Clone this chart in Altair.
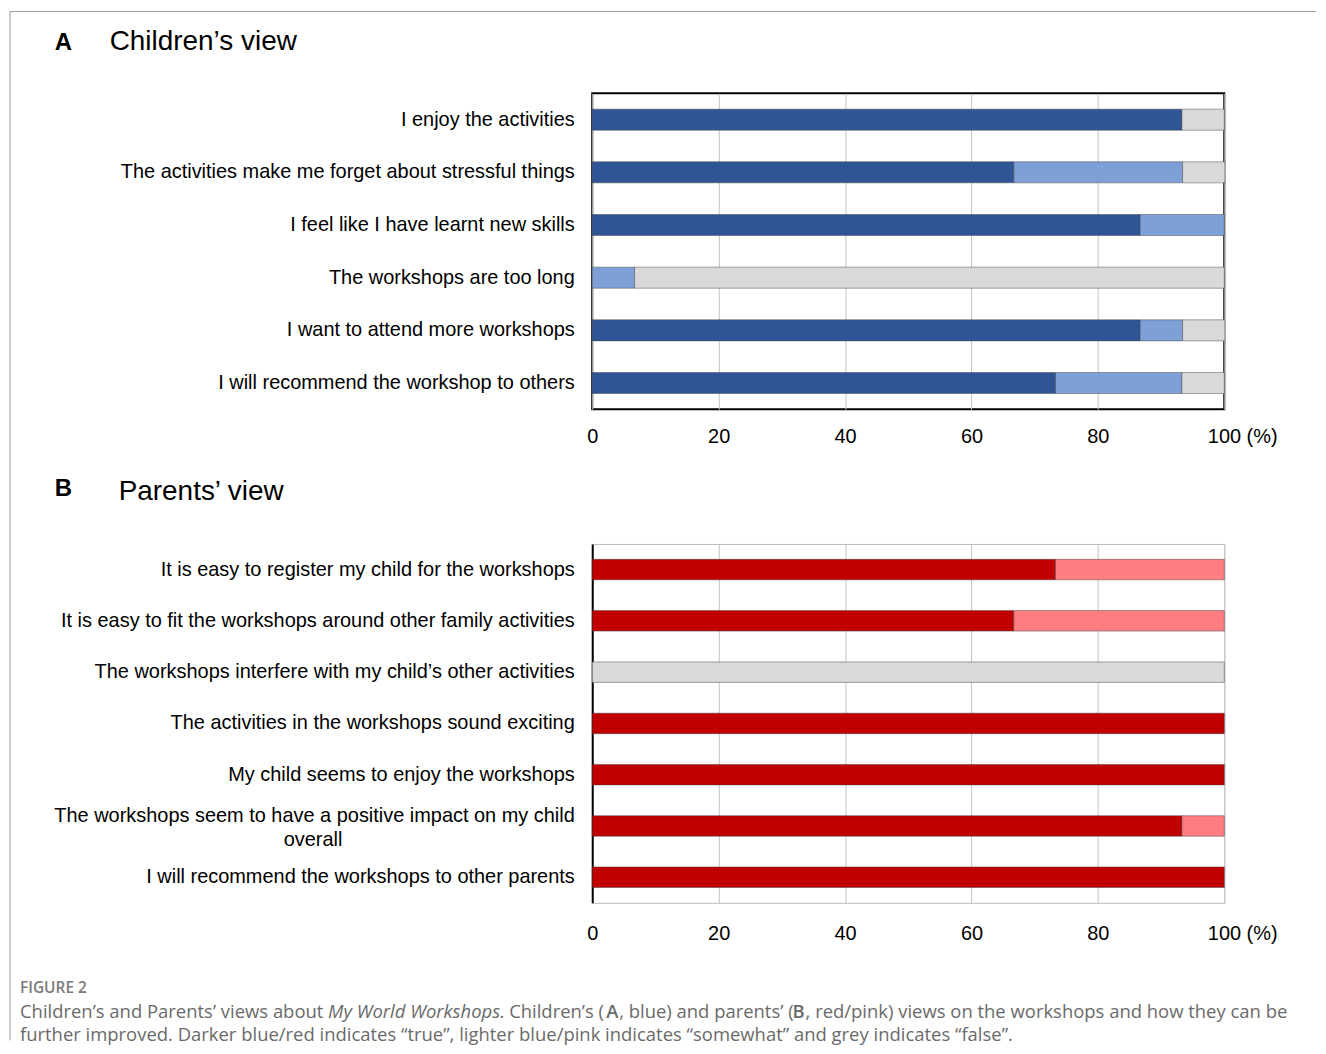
import altair as alt
import pandas as pd

# ---------------- data ----------------
children_items = [
    "I enjoy the activities",
    "The activities make me forget about stressful things",
    "I feel like I have learnt new skills",
    "The workshops are too long",
    "I want to attend more workshops",
    "I will recommend the workshop to others",
]
children_true = [93.3, 66.7, 86.7, 0.0, 86.7, 73.3]
children_somewhat = [0.0, 26.7, 13.3, 6.7, 6.7, 20.0]
children_false = [6.7, 6.7, 0.0, 93.3, 6.7, 6.7]

parents_items = [
    "It is easy to register my child for the workshops",
    "It is easy to fit the workshops around other family activities",
    "The workshops interfere with my child\u2019s other activities",
    "The activities in the workshops sound exciting",
    "My child seems to enjoy the workshops",
    "The workshops seem to have a positive impact on my child overall",
    "I will recommend the workshops to other parents",
]
parents_true = [73.3, 66.7, 0.0, 100.0, 100.0, 93.3, 100.0]
parents_somewhat = [26.7, 33.3, 0.0, 0.0, 0.0, 6.7, 0.0]
parents_false = [0.0, 0.0, 100.0, 0.0, 0.0, 0.0, 0.0]

answers = ["true", "somewhat", "false"]
x_ticks = [0, 20, 40, 60, 80, 100]

blue_palette = ["#2F5597", "#7F9FD7", "#D9D9D9"]
red_palette = ["#C00000", "#FF7C80", "#D9D9D9"]

# long label that wraps onto a second line in the figure
wrap_item = "The workshops seem to have a positive impact on my child overall"
wrap_first = "The workshops seem to have a positive impact on my child"
wrap_second = "overall"

caption_head = "FIGURE 2"
# caption line 1 pieces: (text, style, weight, x offset from panel B origin)
caption_pieces = [
    ("Children\u2019s and Parents\u2019 views about ", "normal", "normal", -574),
    ("My World Workshops", "italic", "normal", -265),
    (". Children\u2019s (", "normal", "normal", -93),
    ("A", "normal", 600, 14),
    (", blue) and parents\u2019 (", "normal", "normal", 27),
    ("B", "normal", 600, 201),
    (", red/pink) views on the workshops and how they can be", "normal", "normal", 214),
]
caption_line2 = ("further improved. Darker blue/red indicates \u201ctrue\u201d, lighter blue/pink indicates "
                 "\u201csomewhat\u201d and grey indicates \u201cfalse\u201d.")

FONT = "Liberation Sans"
CAP_FONT = "Open Sans"
CAP_SIZE = 18.5
CAP_COLOR = "#6a6a6a"
W = 634


def long_df(items, t, s, f):
    rows = []
    for i, item in enumerate(items):
        for k, vals in enumerate([t, s, f]):
            if vals[i] > 0:
                rows.append({"item": item, "answer": answers[k], "ord": k, "pct": vals[i]})
    return pd.DataFrame(rows)


def one():
    return alt.Chart(pd.DataFrame({"k": [0]}))


def text_at(txt, x, y, size, weight="normal", font=FONT, color="#000", style="normal"):
    return one().mark_text(
        text=txt, align="left", baseline="middle", font=font, fontSize=size,
        fontWeight=weight, color=color, fontStyle=style,
    ).encode(x=alt.value(x), y=alt.value(y))


wrap_expr = f"datum.value == '{wrap_item}' ? '{wrap_first}' : datum.label"
wrap_test = f"datum.value == '{wrap_item}'"


def bars(items, t, s, f, palette, y_domain, x_pad):
    df = long_df(items, t, s, f)
    x_axis = alt.Axis(
        values=x_ticks, title=None, grid=True, gridColor="#c4c4c4", gridWidth=1,
        ticks=False, domain=False, labelFont=FONT, labelFontSize=20, labelColor="#000",
        labelPadding=x_pad, labelFlush=False, labelOverlap=False,
        labelExpr="datum.value == 100 ? '100 (%)' : datum.label",
        labelAlign={"condition": {"test": "datum.value == 100", "value": "left"}, "value": "center"},
        labelOffset={"condition": {"test": "datum.value == 100", "value": -17}, "value": 0},
    )
    y_axis = alt.Axis(
        title=None, ticks=False, domain=y_domain, domainColor="#000", domainWidth=2,
        labelFont=FONT, labelFontSize=20, labelColor="#000", labelPadding=18,
        labelLimit=800, labelExpr=wrap_expr,
        labelOffset={"condition": {"test": wrap_test, "value": -10}, "value": 0},
    )
    return alt.Chart(df).mark_bar(stroke="#3a3a3a", strokeWidth=0.8, strokeOpacity=0.55).encode(
        x=alt.X("pct:Q", stack="zero", scale=alt.Scale(domain=[0, 100], nice=False, zero=True), axis=x_axis),
        y=alt.Y("item:N", sort=items, scale=alt.Scale(paddingInner=0.6, paddingOuter=0.3), axis=y_axis),
        color=alt.Color("answer:N", scale=alt.Scale(domain=answers, range=palette), legend=None),
        order=alt.Order("ord:Q"),
    )


# ---------------- panel A ----------------
border_top = one().mark_rule(color="#9a9a9a", strokeWidth=1).encode(
    x=alt.value(-584), x2=alt.value(726), y=alt.value(-82))
border_left = one().mark_rule(color="#9a9a9a", strokeWidth=1).encode(
    x=alt.value(-584), y=alt.value(-82), y2=alt.value(950))

panel_a = alt.layer(
    bars(children_items, children_true, children_somewhat, children_false, blue_palette, False, 17),
    text_at("A", -539, -50, 24, "bold"),
    text_at("Children\u2019s view", -484, -51, 28),
    border_top,
    border_left,
).properties(width=W, height=317, view=alt.ViewBackground(stroke="#000", strokeWidth=2))

# ---------------- panel B ----------------
second_line = alt.Chart(pd.DataFrame({"item": [wrap_item], "t": [wrap_second]})).mark_text(
    align="center", baseline="middle", font=FONT, fontSize=20, color="#000", dy=14
).encode(y=alt.Y("item:N", sort=parents_items), x=alt.value(-280), text="t:N")

caption_layers = [text_at(caption_head, -574, 445, 15.5, 600, CAP_FONT, "#7a7a7a")]
for txt, style, weight, xoff in caption_pieces:
    caption_layers.append(text_at(txt, xoff, 469, CAP_SIZE, weight, CAP_FONT, CAP_COLOR, style))
caption_layers.append(text_at(caption_line2, -574, 493, CAP_SIZE, "normal", CAP_FONT, CAP_COLOR))

panel_b = alt.layer(
    bars(parents_items, parents_true, parents_somewhat, parents_false, red_palette, True, 21),
    second_line,
    text_at("B", -539, -55, 24, "bold"),
    text_at("Parents\u2019 view", -475, -52, 28),
    *caption_layers,
).properties(width=W, height=360, view=alt.ViewBackground(stroke="#bdbdbd", strokeWidth=1))

chart = alt.vconcat(panel_a, panel_b, spacing=135, bounds="flush").resolve_scale(
    color="independent", x="independent", y="independent"
).properties(padding={"left": 0, "top": 0, "right": 0, "bottom": 0}, background="white")

chart.save("out.html", embed_options={"renderer": "svg", "actions": False})
